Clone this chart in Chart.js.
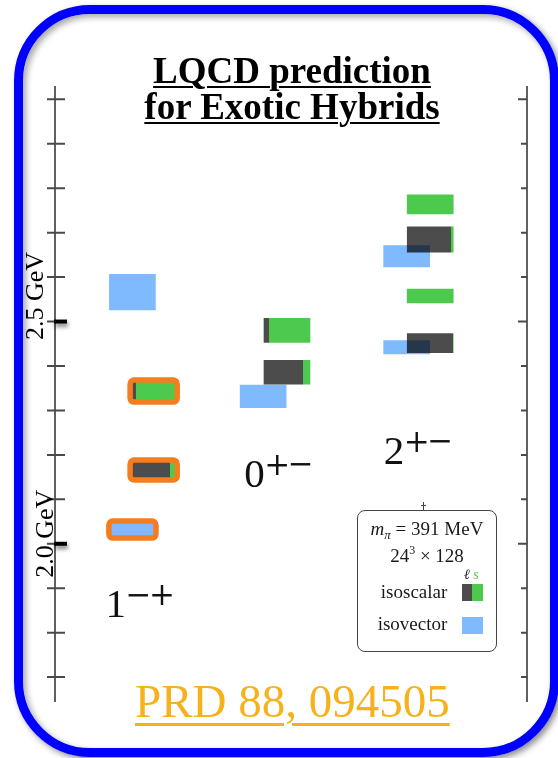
<!DOCTYPE html>
<html>
<head>
<meta charset="utf-8">
<title>LQCD prediction for Exotic Hybrids</title>
<script src="https://cdn.jsdelivr.net/npm/chart.js@4.4.1/dist/chart.umd.min.js"></script>
<style>
  html, body { margin: 0; padding: 0; background: #fff; }
  #page { position: relative; width: 558px; height: 758px; overflow: hidden; background: #fff;
          font-family: "Liberation Serif", "Times New Roman", serif; }
  #frame { position: absolute; left: 14px; top: 5px; width: 527px; height: 734px;
           border: 9px solid #0000ff; border-radius: 76px;
           box-shadow: 3px 3px 6px rgba(0,0,0,.45), inset 3px 3px 6px rgba(0,0,0,.35); }
  #plot { position: absolute; left: 0; top: 0; width: 558px; height: 758px; }
  #title { position: absolute; left: 92px; top: 53px; width: 400px; text-align: center;
           font-weight: bold; font-size: 37px; line-height: 36px; color: #000;
           text-decoration: underline; text-decoration-thickness: 2px; text-underline-offset: 3px; }
  #key { position: absolute; left: 357px; top: 510px; width: 140px; height: 142px;
         box-sizing: border-box; border: 1.3px solid #444; border-radius: 8px; }
  .k { position: absolute; font-size: 19px; line-height: 19px; color: #1a1a1a; white-space: nowrap; }
  .k .lo { position: relative; top: 4px; font-size: 13px; }
  .k .hi { position: relative; top: -8px; font-size: 12px; }
  .sw { position: absolute; width: 20.4px; height: 17px; }
  #pin { position: absolute; left: 422.5px; top: 502px; width: 1px; height: 8px; background: #444; }
  #pin2 { position: absolute; left: 420.5px; top: 504.5px; width: 5px; height: 1px; background: #444; }
  #ref { position: absolute; left: 135px; top: 678px; font-size: 47px; line-height: 47px; color: #f7b21b;
         text-decoration: underline; text-decoration-thickness: 2.5px; text-underline-offset: 6px; white-space: nowrap; }
</style>
</head>
<body>
<div id="page">
  <div id="frame"></div>
  <div id="plot"><canvas id="levels"></canvas></div>
  <div id="title">LQCD prediction<br>for Exotic Hybrids</div>
  <div id="pin"></div><div id="pin2"></div>
  <div id="key"></div>
  <div class="k" style="left:357px;width:140px;text-align:center;top:519px"><i>m</i><span class="lo"><i>π</i></span> = 391 MeV</div>
  <div class="k" style="left:357px;width:140px;text-align:center;top:546px">24<span class="hi">3</span> × 128</div>
  <div class="k" style="left:464px;top:568px;font-size:14px;line-height:14px"><i>ℓ</i> <i id="sTag">s</i></div>
  <div class="k" style="left:300px;width:147.3px;text-align:right;top:582px">isoscalar</div>
  <div class="sw" id="swScalar" style="left:462.3px;top:584px"></div>
  <div class="k" style="left:300px;width:147.3px;text-align:right;top:614px">isovector</div>
  <div class="sw" id="swVector" style="left:462.3px;top:616.7px"></div>
  <div id="ref">PRD 88, 094505</div>
</div>
<script>
// hybrid channels J^PC
const channelJ = ['1', '0', '2'];
const channelPC = ['−+', '+−', '+−'];

// isovector levels, bottom / top of each box (GeV)
const vectorChannel = [0, 0, 1, 2, 2];
const vectorLow  = [2.014, 2.526, 2.306, 2.427, 2.623];
const vectorHigh = [2.050, 2.606, 2.357, 2.457, 2.671];
const vectorMarked = [true, false, false, false, false];

// isoscalar levels, with the light (ℓ) share of the ℓ/s mix
const scalarChannel = [0, 0, 1, 1, 2, 2, 2, 2];
const scalarLow  = [2.145, 2.320, 2.359, 2.453, 2.430, 2.542, 2.656, 2.742];
const scalarHigh = [2.187, 2.367, 2.413, 2.507, 2.473, 2.573, 2.713, 2.785];
const scalarLight = [0.855, 0.115, 0.855, 0.115, 1.0, 0.0, 0.96, 0.0];
const scalarMarked = [true, true, false, false, false, false, false, false];

// mass axis
const tickGeV = [1.7, 1.8, 1.9, 2.0, 2.1, 2.2, 2.3, 2.4, 2.5, 2.6, 2.7, 2.8, 2.9, 3.0];
const labelGeV = [2.0, 2.5];
const labelText = ['2.0 GeV', '2.5 GeV'];

// layout
const vectorPos = [1.64, 4.41, 7.45];
const scalarPos = [2.09, 4.915, 7.95];
const jpcBaseline = [1.835, 2.128, 2.18];
const jpcShift = [-24, -18, -22];
const BOX_W = 46;

const BLUE = 'rgba(0, 115, 255, 0.5)';
const DARK = 'rgba(0, 0, 0, 0.7)';
const GREEN = '#4dc94d';
const ORANGE = '#f57d1e';
const SERIF = '"Liberation Serif", "Times New Roman", serif';

document.getElementById('swScalar').style.background = 'linear-gradient(to right, ' + DARK + ' 50%, ' + GREEN + ' 50%)';
document.getElementById('swVector').style.background = BLUE;
document.getElementById('sTag').style.color = GREEN;

const vectorBars = vectorLow.map((lo, i) => ({ x: vectorPos[vectorChannel[i]], y: [lo, vectorHigh[i]] }));
const scalarBars = scalarLow.map((lo, i) => ({
    x: scalarPos[scalarChannel[i]], y: [lo, scalarHigh[i]], light: scalarLight[i]
}));

// split each isoscalar box into its ℓ (dark) and s (green) parts
function scalarFill(c) {
    const item = c.raw;
    const xs = c.chart.scales.x;
    if (!item || !xs) return GREEN;
    const mid = xs.getPixelForValue(item.x);
    if (!isFinite(mid)) return GREEN;
    const g = c.chart.ctx.createLinearGradient(mid - BOX_W / 2, 0, mid + BOX_W / 2, 0);
    g.addColorStop(0, DARK);
    g.addColorStop(item.light, DARK);
    g.addColorStop(item.light, GREEN);
    g.addColorStop(1, GREEN);
    return g;
}

const massAxes = {
    id: 'massAxes',
    beforeDatasetsDraw(chart) {
        const { ctx, chartArea: a, scales: { y } } = chart;
        ctx.save();
        ctx.strokeStyle = '#3a3a3a';
        ctx.lineWidth = 1.6;
        ctx.beginPath();
        ctx.moveTo(a.left, a.top); ctx.lineTo(a.left, a.bottom);
        ctx.moveTo(a.right, a.top); ctx.lineTo(a.right, a.bottom);
        ctx.stroke();

        ctx.lineWidth = 2;
        ctx.strokeStyle = '#4a4a4a';
        tickGeV.forEach(v => {
            const py = y.getPixelForValue(v);
            const major = Math.abs(v * 2 - Math.round(v * 2)) < 1e-6;
            ctx.beginPath();
            ctx.moveTo(a.left - 8, py); ctx.lineTo(a.left + 10, py);
            ctx.moveTo(a.right - (major ? 9 : 6), py); ctx.lineTo(a.right, py);
            ctx.stroke();
        });

        // labelled ticks
        ctx.fillStyle = '#000';
        ctx.shadowColor = 'rgba(0,0,0,0.55)';
        ctx.shadowBlur = 4;
        ctx.shadowOffsetX = 1;
        ctx.shadowOffsetY = 3;
        labelGeV.forEach(v => {
            ctx.fillRect(a.left - 1, y.getPixelForValue(v) - 2, 13, 4);
        });
        ctx.shadowColor = 'transparent';

        ctx.font = '26px ' + SERIF;
        ctx.textAlign = 'left';
        ctx.textBaseline = 'alphabetic';
        const shift = [[-2.5, 34], [-12, 18.5]];
        labelGeV.forEach((v, i) => {
            ctx.save();
            ctx.translate(a.left + shift[i][0], y.getPixelForValue(v) + shift[i][1]);
            ctx.rotate(-Math.PI / 2);
            ctx.fillText(labelText[i], 0, 0);
            ctx.restore();
        });
        ctx.restore();
    },
    afterDatasetsDraw(chart) {
        const { ctx, scales: { x, y } } = chart;
        ctx.save();

        // orange outline round the lightest states
        ctx.strokeStyle = ORANGE;
        ctx.lineWidth = 5.5;
        [[0, scalarMarked], [1, vectorMarked]].forEach(([di, marked]) => {
            chart.getDatasetMeta(di).data.forEach((el, i) => {
                if (!marked[i]) return;
                const p = el.getProps(['x', 'y', 'base', 'width'], true);
                const l = p.x - p.width / 2 - 0.55;
                const t = Math.min(p.y, p.base) - 0.55;
                const h = Math.abs(p.base - p.y) + 1.1;
                ctx.beginPath();
                ctx.roundRect(l, t, p.width + 1.1, h, 4);
                ctx.stroke();
            });
        });

        // J^PC labels
        ctx.fillStyle = '#111';
        ctx.textBaseline = 'alphabetic';
        ctx.textAlign = 'left';
        channelJ.forEach((j, i) => {
            const left = x.getPixelForValue(vectorPos[i]) + jpcShift[i];
            const base = y.getPixelForValue(jpcBaseline[i]);
            ctx.font = '41px ' + SERIF;
            const m = ctx.measureText(j);
            ctx.fillText(j, left + m.actualBoundingBoxLeft, base);
            let cx = left + m.actualBoundingBoxLeft + m.actualBoundingBoxRight + 4;
            ctx.font = '31px "DejaVu Serif", serif';
            for (const ch of channelPC[i]) {
                const g = ctx.measureText(ch);
                const mid = (g.actualBoundingBoxAscent - g.actualBoundingBoxDescent) / 2;
                ctx.fillText(ch, cx + g.actualBoundingBoxLeft, base - 22 + mid);
                cx += g.actualBoundingBoxLeft + g.actualBoundingBoxRight + 3.5;
            }
        });
        ctx.restore();
    }
};

new Chart(document.getElementById('levels'), {
    type: 'bar',
    data: {
        datasets: [
            {
                label: 'isoscalar',
                data: scalarBars,
                stack: 'levels',
                order: 1,
                barThickness: BOX_W,
                borderWidth: 0,
                backgroundColor: scalarFill
            },
            {
                label: 'isovector',
                data: vectorBars,
                stack: 'levels',
                order: 2,
                barThickness: BOX_W,
                borderWidth: 0,
                backgroundColor: BLUE
            }
        ]
    },
    options: {
        responsive: true,
        maintainAspectRatio: false,
        animation: false,
        events: [],
        layout: { padding: { left: 55, right: 31, top: 86, bottom: 56 } },
        scales: {
            x: { type: 'linear', min: 0, max: 10, offset: false, display: false },
            y: { type: 'linear', min: 1.644, max: 3.03, stacked: false, display: false }
        },
        plugins: {
            legend: { display: false },
            tooltip: { enabled: false }
        }
    },
    plugins: [massAxes]
});
</script>
</body>
</html>
